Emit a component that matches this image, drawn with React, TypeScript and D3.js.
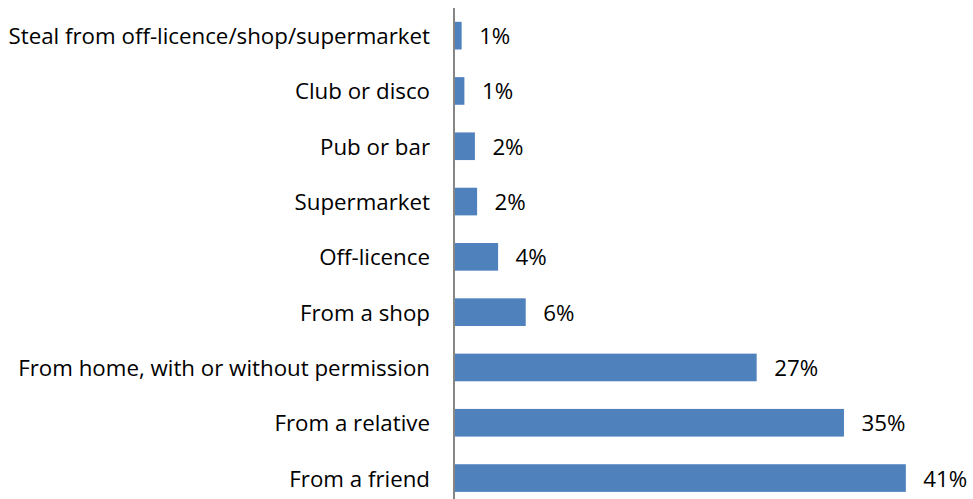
import React from "react";
import * as d3 from "d3";

const categories = [
  "Steal from off-licence/shop/supermarket",
  "Club or disco",
  "Pub or bar",
  "Supermarket",
  "Off-licence",
  "From a shop",
  "From home, with or without permission",
  "From a relative",
  "From a friend",
];
const values = [0.6, 0.85, 1.8, 2.0, 3.9, 6.4, 27.3, 35.2, 40.8];

const W = 973;
const H = 499;
const FONT = "'Open Sans', sans-serif";

export default function App() {
  const x0 = 455;
  const x = d3.scaleLinear().domain([0, 10]).range([x0, x0 + 110.5]);
  const y = d3
    .scaleBand<string>()
    .domain(categories)
    .range([8, 505.7])
    .paddingInner(0.5)
    .paddingOuter(0.25);

  return (
    <svg
      width={W}
      height={H}
      style={{ position: "absolute", left: 0, top: 0, background: "#fff" }}
      fontFamily={FONT}
    >
      {categories.map((c, i) => {
        const yy = y(c)!;
        const bw = y.bandwidth();
        return (
          <g key={c}>
            <rect
              x={x(0)}
              y={yy}
              width={x(values[i]) - x(0)}
              height={bw}
              fill="#4F81BD"
            />
            <text
              x={430}
              y={yy + bw / 2}
              textAnchor="end"
              dominantBaseline="central"
              fontSize={22.3}
              fill="#000"
            >
              {c}
            </text>
            <text
              x={x(values[i]) + 17.5}
              y={yy + bw / 2}
              dominantBaseline="central"
              fontSize={22.3}
              fill="#000"
            >
              {Math.round(values[i]) + "%"}
            </text>
          </g>
        );
      })}
      <line x1={454} x2={454} y1={8} y2={H} stroke="#868686" strokeWidth={2} />
    </svg>
  );
}
